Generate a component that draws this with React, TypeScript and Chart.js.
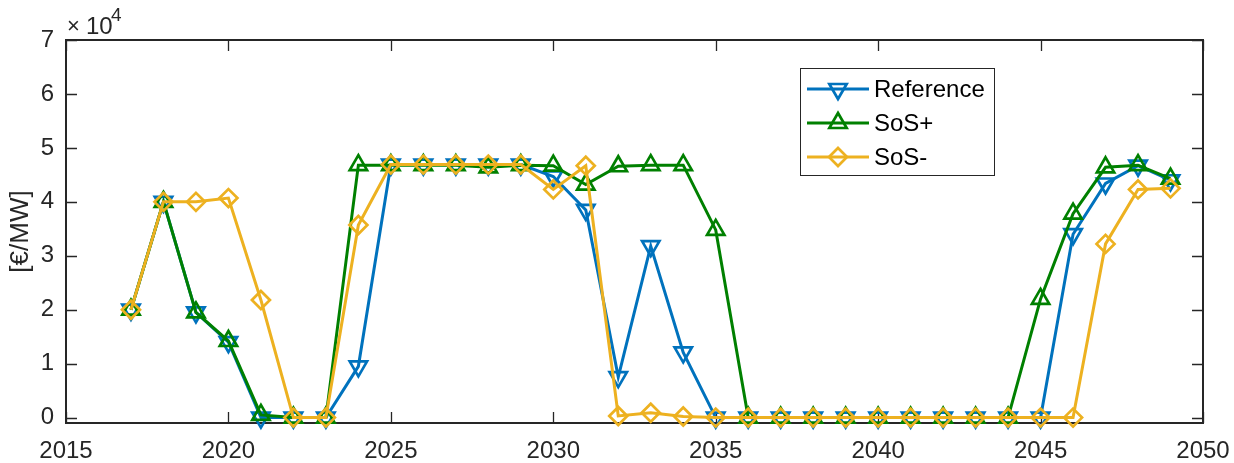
import React, { useEffect, useRef } from 'react';
import { Chart, registerables } from 'chart.js';

Chart.register(...registerables);

const years = [
  2017, 2018, 2019, 2020, 2021, 2022, 2023, 2024, 2025, 2026, 2027,
  2028, 2029, 2030, 2031, 2032, 2033, 2034, 2035, 2036, 2037, 2038,
  2039, 2040, 2041, 2042, 2043, 2044, 2045, 2046, 2047, 2048, 2049,
];

const reference = [
  20000, 40000, 19500, 14000, 0, 0, 0, 9500, 46900, 46900, 46900,
  46900, 46900, 44700, 38500, 7500, 31800, 12100, 0, 0, 0, 0,
  0, 0, 0, 0, 0, 0, 0, 34000, 43400, 46700, 44000,
];

const sosPlus = [
  20000, 40000, 19500, 14200, 500, 0, 0, 46800, 46800, 46800, 46800,
  46400, 46800, 46700, 43200, 46600, 46800, 46800, 34800, 0, 0, 0,
  0, 0, 0, 0, 0, 0, 22000, 37800, 46400, 46800, 44300,
];

const sosMinus = [
  20000, 40000, 40000, 40700, 21800, 0, 0, 35700, 46900, 46900, 46900,
  46900, 46900, 42300, 46700, 300, 900, 200, 0, 0, 0, 0,
  0, 0, 0, 0, 0, 0, 0, 0, 32200, 42300, 42500,
];

const xTicks = [2015, 2020, 2025, 2030, 2035, 2040, 2045, 2050];
const yTicks = [0, 10000, 20000, 30000, 40000, 50000, 60000, 70000];
const seriesNames = ['Reference', 'SoS+', 'SoS-'];
const seriesColors = ['#0072BD', '#008000', '#EDB120'];
const yTitle = '[€/MW]';

const FONT = '"Liberation Sans", Arial, Helvetica, sans-serif';
const AXIS = '#262626';
const TRI_R = 10;
const DIA_R = 9;

function drawMarker(ctx: CanvasRenderingContext2D, style: string, x: number, y: number, r: number, rot: number, color: string, lw: number) {
  ctx.save();
  ctx.strokeStyle = color;
  ctx.lineWidth = lw;
  ctx.beginPath();
  if (style === 'triangle') {
    let rad = (rot * Math.PI) / 180;
    for (let i = 0; i < 3; i++) {
      const px = x + Math.sin(rad) * r;
      const py = y - Math.cos(rad) * r;
      if (i === 0) ctx.moveTo(px, py);
      else ctx.lineTo(px, py);
      rad += (2 * Math.PI) / 3;
    }
    ctx.closePath();
  } else {
    ctx.moveTo(x - r, y);
    ctx.lineTo(x, y - r);
    ctx.lineTo(x + r, y);
    ctx.lineTo(x, y + r);
    ctx.closePath();
  }
  ctx.stroke();
  ctx.restore();
}

const framePlugin = {
  id: 'matlabFrame',
  beforeDatasetsDraw(chart: any) {
    const { ctx, chartArea: a, scales } = chart;
    ctx.save();
    ctx.strokeStyle = AXIS;
    ctx.lineWidth = 2;
    ctx.strokeRect(a.left, a.top, a.right - a.left, a.bottom - a.top);
    ctx.lineWidth = 1.3;
    const tl = 11;
    ctx.beginPath();
    xTicks.forEach((v) => {
      const px = Math.round(scales.x.getPixelForValue(v)) + 0.5;
      ctx.moveTo(px, a.bottom);
      ctx.lineTo(px, a.bottom - tl);
      ctx.moveTo(px, a.top);
      ctx.lineTo(px, a.top + tl);
    });
    yTicks.forEach((v) => {
      const py = Math.round(scales.y.getPixelForValue(v)) + 0.5;
      ctx.moveTo(a.left, py);
      ctx.lineTo(a.left + tl, py);
      ctx.moveTo(a.right, py);
      ctx.lineTo(a.right - tl, py);
    });
    ctx.stroke();

    // exponent label
    ctx.fillStyle = AXIS;
    ctx.textBaseline = 'alphabetic';
    ctx.textAlign = 'left';
    ctx.font = `22px ${FONT}`;
    ctx.fillText('×', 67, 33);
    ctx.font = `24px ${FONT}`;
    ctx.fillText('10', 86, 34);
    ctx.font = `19px ${FONT}`;
    ctx.fillText('4', 111, 21);

    // y title
    ctx.save();
    ctx.translate(21, (a.top + a.bottom) / 2);
    ctx.rotate(-Math.PI / 2);
    ctx.textAlign = 'center';
    ctx.textBaseline = 'middle';
    ctx.font = `26px ${FONT}`;
    ctx.fillText(yTitle, 0, 0);
    ctx.restore();
    ctx.restore();
  },
  afterDraw(chart: any) {
    const { ctx } = chart;
    ctx.save();
    const bx = 800, by = 68, bw = 194, bh = 107;
    ctx.fillStyle = '#ffffff';
    ctx.fillRect(bx, by, bw, bh);
    ctx.strokeStyle = AXIS;
    ctx.lineWidth = 1;
    ctx.strokeRect(bx + 0.5, by + 0.5, bw, bh);
    const rows = [89, 123, 157];
    const styles = [
      { s: 'triangle', rot: 180 },
      { s: 'triangle', rot: 0 },
      { s: 'rectRot', rot: 0 },
    ];
    rows.forEach((ry, i) => {
      ctx.strokeStyle = seriesColors[i];
      ctx.lineWidth = 3;
      ctx.beginPath();
      ctx.moveTo(807, ry);
      ctx.lineTo(869, ry);
      ctx.stroke();
      drawMarker(ctx, styles[i].s, 838, ry, styles[i].s === 'triangle' ? TRI_R : DIA_R, styles[i].rot, seriesColors[i], 2.7);
      ctx.fillStyle = '#000000';
      ctx.font = `24px ${FONT}`;
      ctx.textAlign = 'left';
      ctx.textBaseline = 'middle';
      ctx.fillText(seriesNames[i], 874, ry + 1);
    });
    ctx.restore();
  },
};

export default function App() {
  const ref = useRef<HTMLCanvasElement | null>(null);
  useEffect(() => {
    document.body.style.margin = '0';
    const canvas = ref.current;
    if (!canvas) return;
    const mk = (arr: number[]) => years.map((x, i) => ({ x, y: arr[i] }));
    const common = {
      backgroundColor: 'rgba(0,0,0,0)',
      borderWidth: 3,
      pointBorderWidth: 2.7,
      pointBackgroundColor: 'rgba(0,0,0,0)',
      tension: 0,
      clip: false,
    };
    const chart = new Chart(canvas, {
      type: 'line',
      data: {
        datasets: [
          {
            ...common,
            label: seriesNames[0],
            data: mk(reference),
            borderColor: seriesColors[0],
            pointBorderColor: seriesColors[0],
            pointStyle: 'triangle',
            rotation: 180,
            pointRadius: TRI_R,
            order: 3,
          },
          {
            ...common,
            label: seriesNames[1],
            data: mk(sosPlus),
            borderColor: seriesColors[1],
            pointBorderColor: seriesColors[1],
            pointStyle: 'triangle',
            rotation: 0,
            pointRadius: TRI_R,
            order: 2,
          },
          {
            ...common,
            label: seriesNames[2],
            data: mk(sosMinus),
            borderColor: seriesColors[2],
            pointBorderColor: seriesColors[2],
            pointStyle: 'rectRot',
            pointRadius: DIA_R,
            order: 1,
          },
        ] as any,
      },
      options: {
        responsive: false,
        animation: false,
        events: [],
        layout: { padding: { left: 0, right: 31, top: 40, bottom: 0 } },
        plugins: { legend: { display: false }, tooltip: { enabled: false } },
        scales: {
          x: {
            type: 'linear',
            min: 2015,
            max: 2050,
            afterBuildTicks: (s: any) => {
              s.ticks = xTicks.map((v) => ({ value: v }));
            },
            afterFit: (s: any) => {
              s.height = 40;
              s.paddingLeft = 0;
              s.paddingRight = 0;
            },
            grid: { display: false, drawTicks: false },
            border: { display: false },
            ticks: {
              font: { family: FONT, size: 24 },
              color: AXIS,
              padding: 14,
              maxRotation: 0,
              autoSkip: false,
              callback: (v: any) => String(v),
            },
          },
          y: {
            type: 'linear',
            min: -1000,
            max: 70000,
            afterBuildTicks: (s: any) => {
              s.ticks = yTicks.map((v) => ({ value: v }));
            },
            afterFit: (s: any) => {
              s.width = 66;
              s.paddingTop = 0;
              s.paddingBottom = 0;
            },
            grid: { display: false, drawTicks: false },
            border: { display: false },
            ticks: {
              font: { family: FONT, size: 24 },
              color: AXIS,
              padding: 12,
              autoSkip: false,
              callback: (v: any) => String(Number(v) / 10000),
            },
          },
        },
      } as any,
      plugins: [framePlugin],
    });
    return () => chart.destroy();
  }, []);
  return (
    <canvas
      ref={ref}
      width={1234}
      height={463}
      style={{ display: 'block', width: '1234px', height: '463px' }}
    />
  );
}
